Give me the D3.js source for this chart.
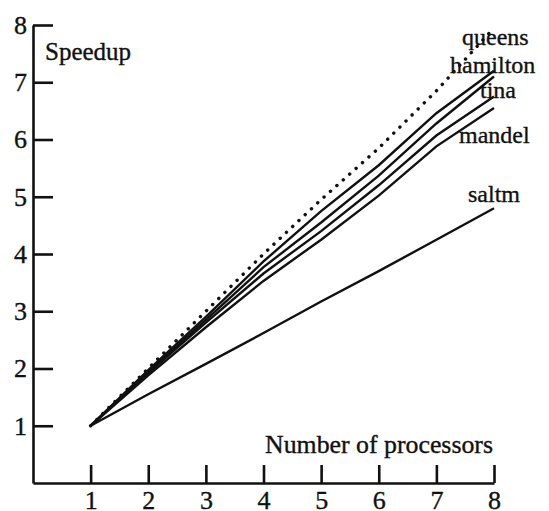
<!DOCTYPE html>
<html>
<head>
<meta charset="utf-8">
<script src="https://cdn.jsdelivr.net/npm/d3@7/dist/d3.min.js"></script>
<style>
  html, body { margin: 0; padding: 0; background: #fff; }
  svg { display: block; }
  text { font-family: "Liberation Serif", "Times New Roman", serif; fill: #111; stroke: #111; stroke-width: 0.35; }
</style>
</head>
<body>
<svg id="chart" width="549" height="511"></svg>
<script>
// ---- data ----
const processors = [1, 2, 3, 4, 5, 6, 7, 8];
const ideal    = [1, 2, 3, 4, 4.95, 5.85, 6.85, 7.95];
const queens   = [1, 1.97, 2.9, 3.87, 4.75, 5.55, 6.46, 7.2];
const hamilton = [1, 1.94, 2.85, 3.77, 4.55, 5.37, 6.28, 7.1];
const tina     = [1, 1.92, 2.8, 3.66, 4.4, 5.2, 6.07, 6.75];
const mandel   = [1, 1.88, 2.72, 3.53, 4.25, 5.02, 5.88, 6.55];
const saltm    = [1, 1.55, 2.08, 2.62, 3.17, 3.7, 4.25, 4.8];
const seriesNames = ["queens", "hamilton", "tina", "mandel", "saltm"];
const xTicks = [1, 2, 3, 4, 5, 6, 7, 8];
const yTicks = [1, 2, 3, 4, 5, 6, 7, 8];

const svg = d3.select("#chart");
const x = d3.scaleLinear().domain([0, 8]).range([33, 494]);
const y = d3.scaleLinear().domain([0, 8]).range([483, 25]);

// axes
const yAxis = d3.axisLeft(y).tickValues(yTicks).tickSizeInner(-20).tickSizeOuter(0).tickPadding(6)
  .tickFormat(d3.format("d"));
const xAxis = d3.axisBottom(x).tickValues(xTicks).tickSizeInner(-18).tickSizeOuter(0).tickPadding(9)
  .tickFormat(d3.format("d"));

const gy = svg.append("g").attr("transform", `translate(${x(0)},0)`).call(yAxis);
const gx = svg.append("g").attr("transform", `translate(0,${y(0)})`).call(xAxis);
[gy, gx].forEach(g => {
  g.select(".domain").attr("stroke", "#111").attr("stroke-width", 2.6);
  g.selectAll(".tick line").attr("stroke", "#111").attr("stroke-width", 2.6);
  g.selectAll(".tick text").attr("font-size", 26)
    .attr("font-family", "Liberation Serif, serif").attr("fill", "#111");
});
gx.selectAll(".tick text").attr("dy", "0.64em");

// lines
const line = d3.line().x((d, i) => x(processors[i])).y(d => y(d));
svg.append("path").datum(ideal).attr("d", line)
  .attr("fill", "none").attr("stroke", "#111").attr("stroke-width", 3.4)
  .attr("stroke-linecap", "round").attr("stroke-dasharray", "0.1,8.5");
[queens, hamilton, tina, mandel, saltm].forEach(s => {
  svg.append("path").datum(s).attr("d", line)
    .attr("fill", "none").attr("stroke", "#111").attr("stroke-width", 2.4);
});

// labels
const labels = [
  {t: "queens",   x: 462, y: 45},
  {t: "hamilton", x: 450, y: 73},
  {t: "tina",     x: 480, y: 98},
  {t: "mandel",   x: 459, y: 143},
  {t: "saltm",    x: 468, y: 202}
];
labels.forEach((l, i) => {
  svg.append("text").attr("x", l.x).attr("y", l.y).attr("font-size", 24).text(seriesNames[i]);
});
svg.append("text").attr("x", 45).attr("y", 60).attr("font-size", 25).text("Speedup");
svg.append("text").attr("x", 265).attr("y", 453).attr("font-size", 25)
  .attr("textLength", 228).attr("lengthAdjust", "spacingAndGlyphs").text("Number of processors");
</script>
</body>
</html>
